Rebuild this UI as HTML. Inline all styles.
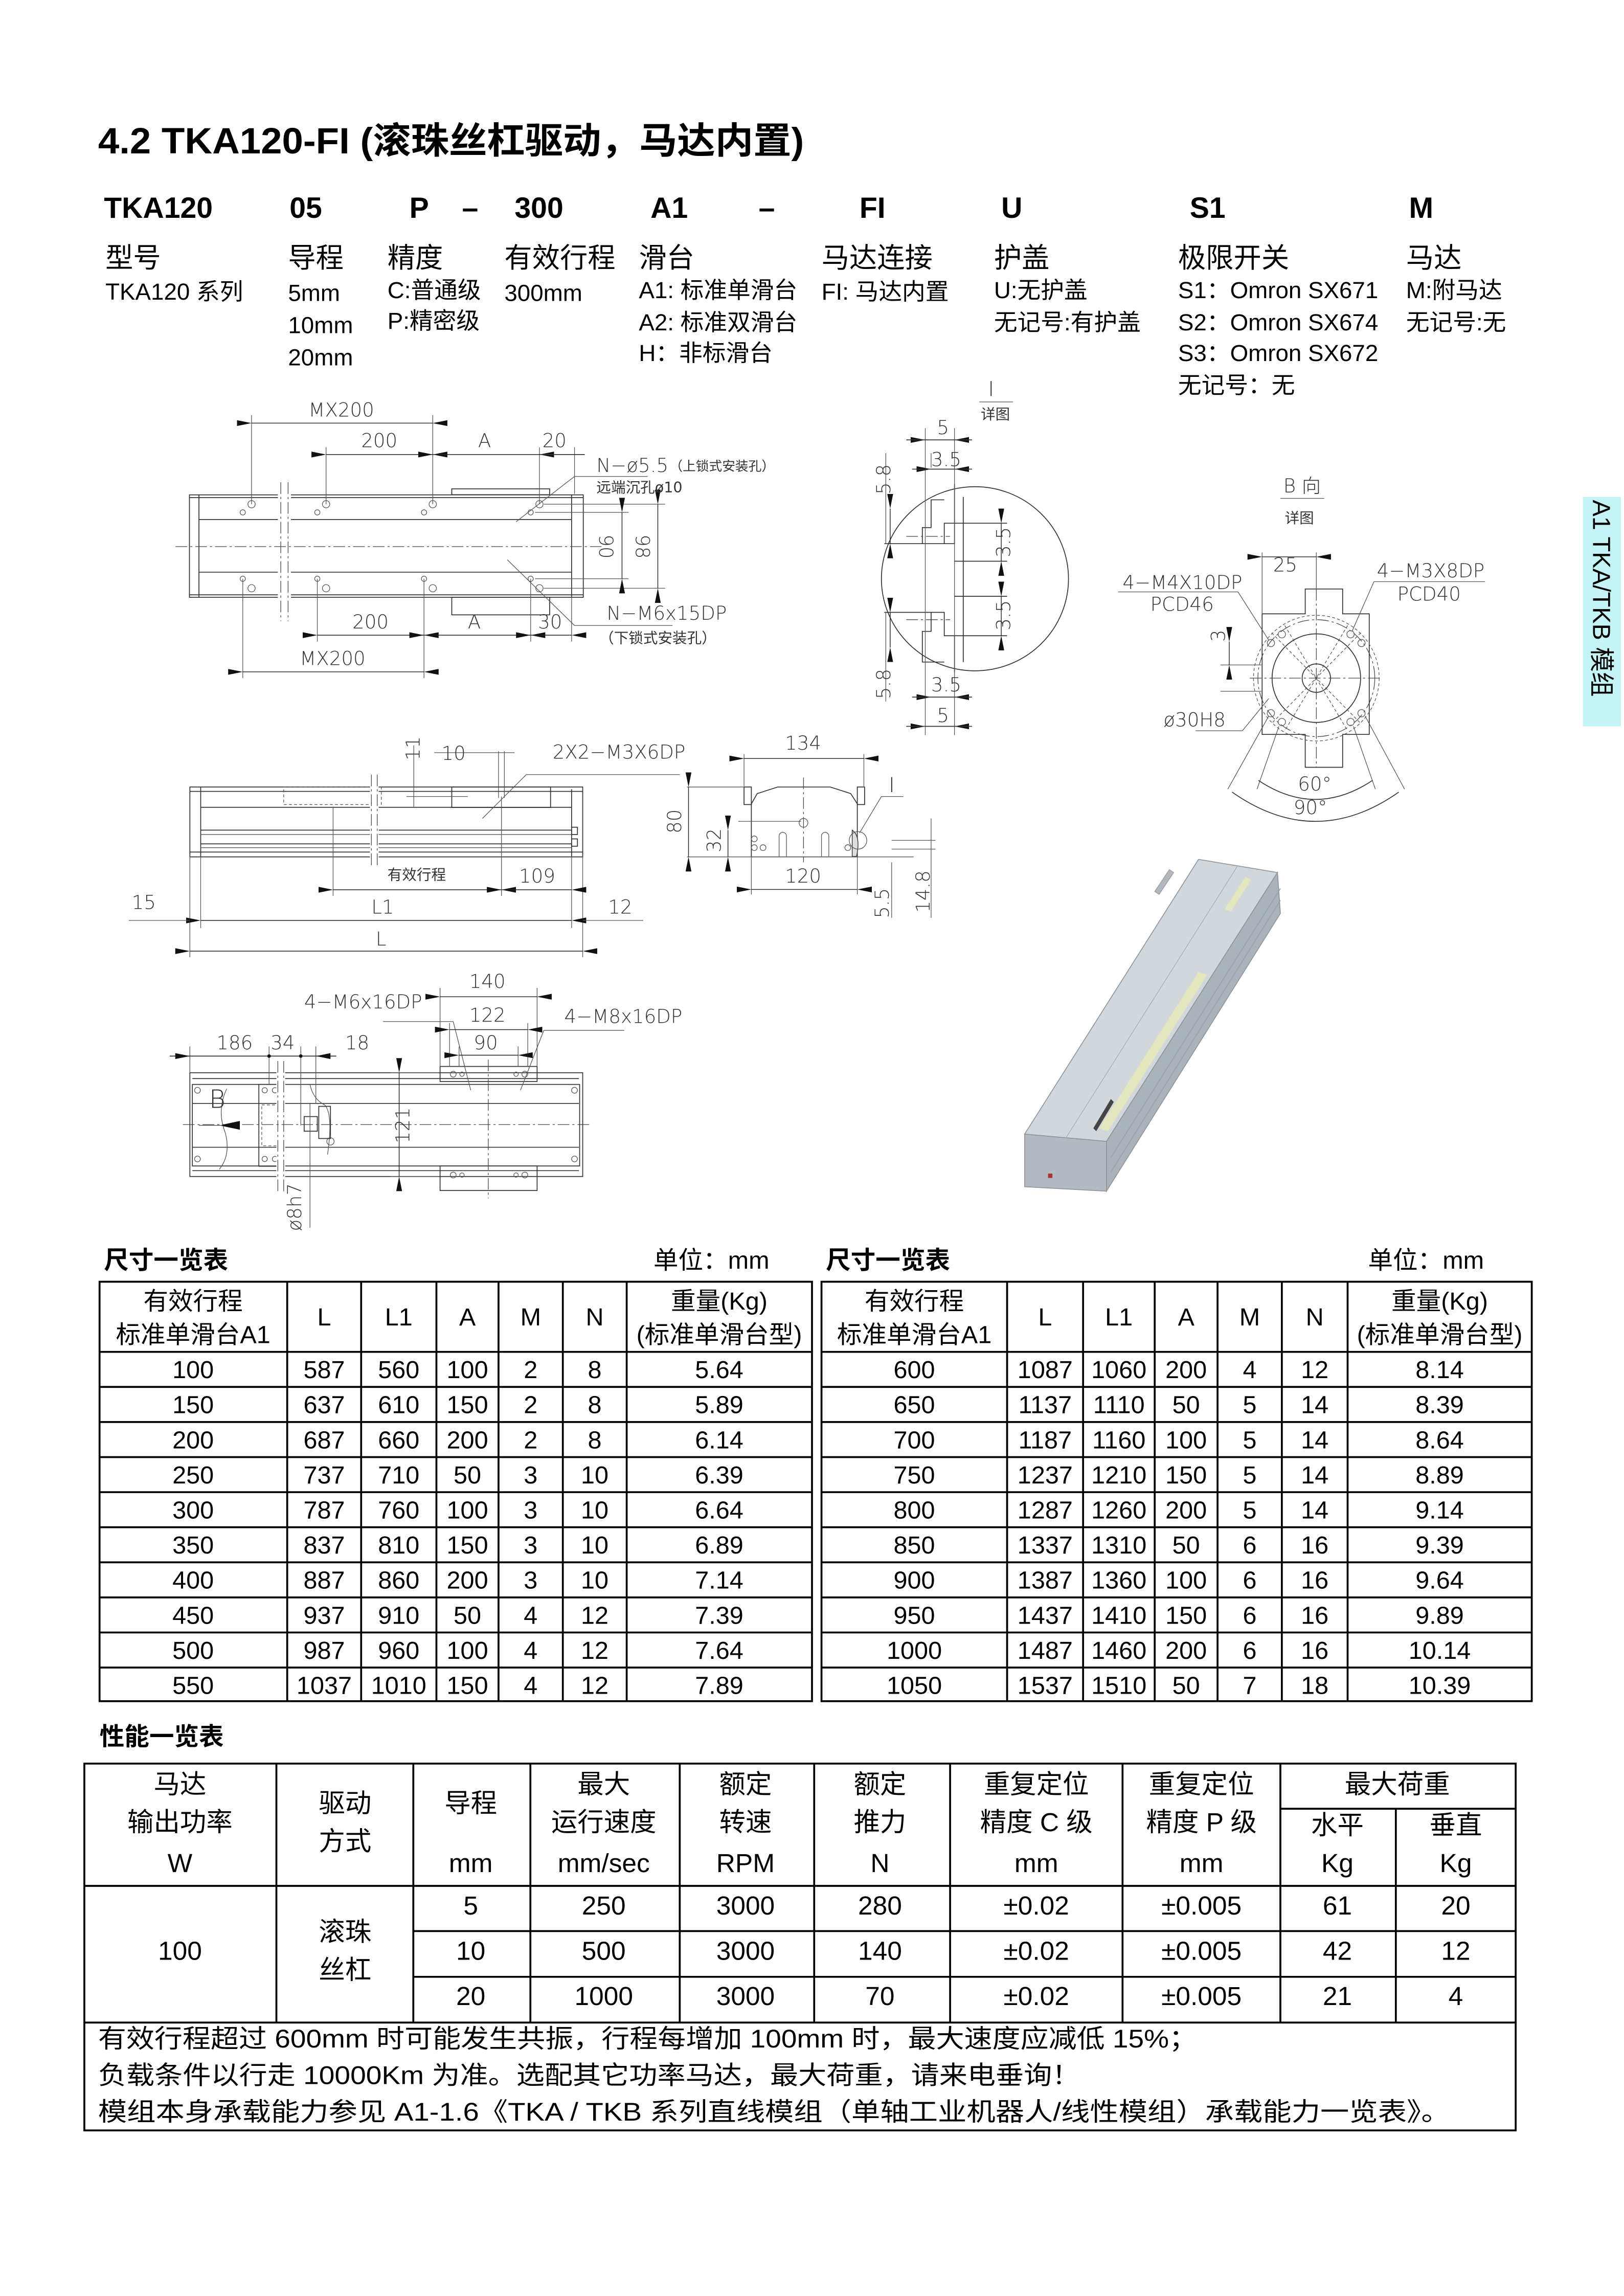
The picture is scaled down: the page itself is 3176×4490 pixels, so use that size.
<!DOCTYPE html>
<html><head><meta charset="utf-8"><style>
html,body{margin:0;padding:0;background:#fff;}
svg{display:block;}
.t{font-family:"Liberation Sans","Noto Sans CJK SC",sans-serif;fill:#000;}
.d{font-family:"DejaVu Sans","Noto Sans CJK SC",sans-serif;fill:#333;font-size:13px;font-weight:200;}
.ds{font-family:"DejaVu Sans","Noto Sans CJK SC",sans-serif;fill:#333;font-size:10px;}
.ln{stroke:#333;stroke-width:0.6;fill:none;}
.lt{stroke:#555;stroke-width:0.45;fill:none;}
.cl{stroke:#444;stroke-width:0.45;fill:none;stroke-dasharray:8 2 1.5 2;}
.dh{stroke:#555;stroke-width:0.45;fill:none;stroke-dasharray:2 1.5;}
.dm{stroke:#222;stroke-width:0.5;fill:none;marker-start:url(#a);marker-end:url(#a);}
.tb{stroke:#000;stroke-width:1.3;fill:none;}
</style></head><body>
<svg width="3176" height="4490" viewBox="0 0 1111 1571" xmlns="http://www.w3.org/2000/svg">
<defs>
<marker id="a" viewBox="0 0 10 4" refX="0" refY="2" markerWidth="10" markerHeight="4" orient="auto-start-reverse" markerUnits="userSpaceOnUse"><path d="M0,2 L10,0 L10,4 Z" fill="#111"/></marker>
</defs>
<rect width="1111" height="1571" fill="#fff"/>

<!-- Title -->
<text class="t" x="67" y="105" font-size="25" font-weight="bold" textLength="483" lengthAdjust="spacingAndGlyphs">4.2 TKA120-FI (滚珠丝杠驱动，马达内置)</text>
<g class="t" font-size="20" font-weight="bold">
<text x="71" y="149">TKA120</text><text x="198" y="149">05</text><text x="280" y="149">P</text><text x="316" y="149">–</text><text x="352" y="149">300</text><text x="445" y="149">A1</text><text x="519" y="149">–</text><text x="588" y="149">FI</text><text x="685" y="149">U</text><text x="814" y="149">S1</text><text x="964" y="149">M</text>
</g>
<g class="t" font-size="19">
<text x="72" y="183">型号</text><text x="197" y="183">导程</text><text x="265" y="183">精度</text><text x="345" y="183">有效行程</text><text x="437" y="183">滑台</text><text x="562" y="183">马达连接</text><text x="680" y="183">护盖</text><text x="806" y="183">极限开关</text><text x="962" y="183">马达</text>
</g>
<g class="t" font-size="16">
<text x="72" y="205">TKA120 系列</text><text x="197" y="206">5mm</text><text x="265" y="204">C:普通级</text><text x="345" y="206">300mm</text><text x="437" y="204">A1: 标准单滑台</text><text x="562" y="205">FI: 马达内置</text><text x="680" y="204">U:无护盖</text><text x="806" y="204">S1：Omron SX671</text><text x="962" y="204">M:附马达</text>
<text x="197" y="228">10mm</text><text x="265" y="225">P:精密级</text><text x="437" y="226">A2: 标准双滑台</text><text x="680" y="226">无记号:有护盖</text><text x="806" y="226">S2：Omron SX674</text><text x="962" y="226">无记号:无</text>
<text x="197" y="250">20mm</text><text x="437" y="247">H：非标滑台</text><text x="806" y="247">S3：Omron SX672</text>
<text x="806" y="269">无记号：无</text>
</g>

<!-- side tab -->
<rect x="1083" y="340" width="26" height="157" fill="#c4f4f6"/>
<text class="t" font-size="17" transform="translate(1090,342) rotate(90)">A1 TKA/TKB 模组</text>

<!-- TOP VIEW -->
<g>
<rect class="ln" x="129.5" y="338.6" width="269.5" height="70.1"/>
<line class="ln" x1="136" y1="338.6" x2="136" y2="408.7"/>
<line class="ln" x1="391" y1="338.6" x2="391" y2="408.7"/>
<line class="ln" x1="129.5" y1="340.5" x2="399" y2="340.5"/>
<line class="ln" x1="136" y1="355.5" x2="391" y2="355.5"/>
<line class="ln" x1="136" y1="391.5" x2="391" y2="391.5"/>
<line class="ln" x1="129.5" y1="407" x2="399" y2="407"/>
<rect class="ln" x="309" y="334.5" width="67" height="4"/>
<rect class="ln" x="309" y="408.7" width="67" height="12"/>
<rect x="190" y="330" width="9" height="95" fill="#fff"/>
<line class="cl" x1="192" y1="330" x2="192" y2="425"/><line class="cl" x1="197" y1="330" x2="197" y2="425"/>
<line class="cl" x1="120" y1="374" x2="412" y2="374"/>
<g class="lt">
<circle cx="172" cy="345" r="2.5"/><circle cx="223" cy="345" r="2.5"/><circle cx="296" cy="345" r="2.5"/><circle cx="369" cy="345" r="2.5"/>
<circle cx="166" cy="350.6" r="1.8"/><circle cx="217" cy="350.6" r="1.8"/><circle cx="290" cy="350.6" r="1.8"/><circle cx="363" cy="350.6" r="1.8"/>
<circle cx="166" cy="396" r="1.8"/><circle cx="217" cy="396" r="1.8"/><circle cx="290" cy="396" r="1.8"/><circle cx="363" cy="396" r="1.8"/>
<circle cx="172" cy="402.5" r="2.5"/><circle cx="223" cy="402.5" r="2.5"/><circle cx="296" cy="402.5" r="2.5"/><circle cx="369" cy="402.5" r="2.5"/>
</g>
<g class="lt">
<line x1="172" y1="284" x2="172" y2="345"/><line x1="223" y1="306" x2="223" y2="345"/><line x1="296" y1="284" x2="296" y2="345"/><line x1="369" y1="306" x2="369" y2="345"/><line x1="393" y1="306" x2="393" y2="338"/>
<line x1="217" y1="396" x2="217" y2="439"/><line x1="166" y1="396" x2="166" y2="464"/><line x1="290" y1="396" x2="290" y2="464"/><line x1="363" y1="396" x2="363" y2="439"/><line x1="391" y1="408" x2="391" y2="439"/>
<line x1="372" y1="345" x2="455" y2="345"/><line x1="366" y1="350.6" x2="430" y2="350.6"/><line x1="366" y1="396" x2="430" y2="396"/><line x1="372" y1="402.5" x2="455" y2="402.5"/>
</g>
<line class="dm" x1="172" y1="289.5" x2="296" y2="289.5"/>
<line class="dm" x1="223" y1="311" x2="296" y2="311"/>
<line class="dm" x1="296" y1="311" x2="369" y2="311"/>
<line class="ln" x1="369" y1="311" x2="400" y2="311"/>
<line class="dm" x1="217" y1="434.6" x2="290" y2="434.6"/>
<line class="dm" x1="290" y1="434.6" x2="363" y2="434.6"/>
<line class="dm" x1="363" y1="434.6" x2="391" y2="434.6"/>
<line class="dm" x1="166" y1="459.7" x2="290" y2="459.7"/>
<line class="dm" x1="425.5" y1="350.6" x2="425.5" y2="396"/>
<line class="dm" x1="450" y1="345" x2="450" y2="402.5"/>
<line class="lt" x1="353" y1="357" x2="393" y2="326"/><line class="lt" x1="393" y1="326" x2="443" y2="326"/>
<line class="lt" x1="347" y1="383" x2="393" y2="428"/><line class="lt" x1="393" y1="428" x2="460" y2="428"/>
<g class="d"><text x="211" y="285">MX200</text><text x="247" y="306">200</text><text x="327" y="306">A</text><text x="371" y="306">20</text>
<text x="241" y="430">200</text><text x="320" y="430">A</text><text x="368" y="430">30</text><text x="205" y="455">MX200</text>
<text x="408" y="323">N−ø5.5</text><text x="415" y="424">N−M6x15DP</text>
<text transform="translate(410,374) rotate(90)" text-anchor="middle">90</text>
<text transform="translate(435,374) rotate(90)" text-anchor="middle">98</text></g>
<g class="ds"><text x="458" y="322" font-size="9">（上锁式安装孔）</text><text x="408" y="337">远端沉孔ø10</text><text x="410" y="440">（下锁式安装孔）</text></g>
</g>

<!-- SIDE VIEW -->
<g>
<rect class="ln" x="129.8" y="538.5" width="268.8" height="47.8"/>
<line class="ln" x1="137.2" y1="538.5" x2="137.2" y2="586.3"/><line class="ln" x1="391" y1="540" x2="391" y2="586.3"/>
<line class="ln" x1="129.8" y1="541.5" x2="398.6" y2="541.5"/>
<line class="ln" x1="137.2" y1="552.4" x2="391" y2="552.4"/>
<line class="ln" x1="137.2" y1="568" x2="391" y2="568"/><line class="lt" x1="137.2" y1="571" x2="391" y2="571"/>
<line class="ln" x1="137.2" y1="577.4" x2="391" y2="577.4"/><line class="lt" x1="137.2" y1="580" x2="391" y2="580"/><line class="ln" x1="129.8" y1="583" x2="398.6" y2="583"/>
<rect class="dh" x="194" y="538.5" width="66.8" height="12"/>
<rect class="ln" x="309" y="538.5" width="67.6" height="14"/>
<rect class="ln" x="391" y="566" width="4" height="5"/><rect class="ln" x="391" y="574" width="4" height="5"/>
<rect x="253" y="530" width="6" height="62" fill="#fff"/>
<line class="cl" x1="254" y1="530" x2="254" y2="592"/><line class="cl" x1="258" y1="530" x2="258" y2="592"/>
<g class="lt"><line x1="129.8" y1="586" x2="129.8" y2="655"/><line x1="137.2" y1="586" x2="137.2" y2="635"/><line x1="227.8" y1="552" x2="227.8" y2="613"/><line x1="343" y1="545" x2="343" y2="613"/><line x1="391" y1="586" x2="391" y2="635"/><line x1="398.6" y1="586" x2="398.6" y2="655"/>
<line x1="341" y1="546" x2="341" y2="514"/><line x1="345" y1="546" x2="345" y2="514"/><line x1="283" y1="510" x2="283" y2="552"/><line x1="278" y1="545" x2="320" y2="545"/><line x1="330" y1="560" x2="360" y2="530"/><line x1="360" y1="530" x2="465" y2="530"/></g>
<line class="dm" x1="227.8" y1="608.8" x2="343" y2="608.8"/><line class="dm" x1="343" y1="608.8" x2="391" y2="608.8"/>
<line class="dm" x1="137.2" y1="629.8" x2="391" y2="629.8"/>
<line class="lt" x1="88" y1="629.8" x2="129.8" y2="629.8"/><line class="lt" x1="398.6" y1="629.8" x2="440" y2="629.8"/>
<line class="dm" x1="129.8" y1="650.8" x2="398.6" y2="650.8"/>
<line class="lt" x1="297" y1="515" x2="352" y2="515"/>
<g class="d"><text x="90" y="622">15</text><text x="254" y="625">L1</text><text x="257" y="647">L</text><text x="355" y="604">109</text><text x="416" y="625">12</text><text x="302" y="520">10</text><text x="378" y="519">2X2−M3X6DP</text>
<text transform="translate(287,512) rotate(-90)" text-anchor="middle">11</text></g>
<text class="ds" x="265" y="602">有效行程</text>
</g>

<!-- END VIEW -->
<g>
<polygon class="ln" points="514,550 514,586.3 586.5,586.3 586.5,550 582,543 568,538.5 532,538.5 518,543"/>
<rect class="ln" x="509" y="538.5" width="5" height="12"/><rect class="ln" x="586.5" y="538.5" width="5" height="12"/>
<line class="cl" x1="549.7" y1="532" x2="549.7" y2="590"/>
<line class="lt" x1="505" y1="562" x2="548" y2="562"/>
<g class="lt"><circle cx="516" cy="574" r="2"/><circle cx="516" cy="580" r="2"/><circle cx="522" cy="580" r="2"/><circle cx="580" cy="580" r="2"/>
<path d="M533,586 V572 a2.5,2.5 0 0 1 5,0 V586"/><path d="M562,586 V572 a2.5,2.5 0 0 1 5,0 V586"/><circle cx="549.7" cy="563" r="3"/></g>
<path d="M583,568 q6,4 3,18 l-3,0 Z" fill="#ddd" stroke="#333" stroke-width="0.5"/>
<circle class="lt" cx="587" cy="575" r="6"/>
<g class="lt"><line x1="509" y1="516" x2="509" y2="538"/><line x1="591" y1="516" x2="591" y2="538"/><line x1="470" y1="538.5" x2="509" y2="538.5"/><line x1="470" y1="586.3" x2="625" y2="586.3"/><line x1="514" y1="586" x2="514" y2="612"/><line x1="586.5" y1="586" x2="586.5" y2="612"/>
<line x1="610" y1="575" x2="640" y2="575"/><line x1="610" y1="581" x2="640" y2="581"/><line x1="588" y1="570" x2="603" y2="545"/><line x1="603" y1="545" x2="618" y2="545"/><line x1="610" y1="590" x2="610" y2="628"/><line x1="637" y1="560" x2="637" y2="628"/></g>
<line class="dm" x1="509" y1="519" x2="591" y2="519"/>
<line class="dm" x1="471" y1="538.5" x2="471" y2="586.3"/>
<line class="dm" x1="498" y1="568" x2="498" y2="586.3"/>
<line class="dm" x1="514" y1="608.6" x2="586.5" y2="608.6"/>
<g class="d"><text x="537" y="513">134</text><text x="537" y="604">120</text><text x="608" y="542" font-size="14">I</text>
<text transform="translate(466,562) rotate(-90)" text-anchor="middle">80</text><text transform="translate(493,575) rotate(-90)" text-anchor="middle">32</text>
<text transform="translate(608,618) rotate(-90)" text-anchor="middle">5.5</text><text transform="translate(636,610) rotate(-90)" text-anchor="middle">14.8</text></g>
</g>

<!-- DETAIL I circle -->
<g>
<ellipse class="ln" cx="667" cy="396" rx="64" ry="63"/>
<g class="ln">
<polyline points="631,372 646,372 646,358 653,358 653,331"/>
<polyline points="605,372 631,372"/>
<polyline points="631,372 631,361 637,361 637,342 646,342"/>
<polyline points="653,358 653,372 646,372"/>
<polyline points="605,419 646,419 646,435 653,435 653,460"/>
<polyline points="637,419 637,432 631,432 631,453 646,453"/>
<line x1="659" y1="340" x2="659" y2="453"/>
<line x1="653" y1="358" x2="689" y2="358"/><line x1="653" y1="384" x2="689" y2="384"/><line x1="653" y1="408" x2="689" y2="408"/><line x1="653" y1="435" x2="689" y2="435"/>
</g>
<line class="cl" x1="620" y1="367" x2="650" y2="367"/><line class="cl" x1="620" y1="424" x2="650" y2="424"/>
<g class="lt"><line x1="633" y1="293" x2="633" y2="503"/><line x1="653" y1="293" x2="653" y2="503"/><line x1="637" y1="310" x2="637" y2="320"/><line x1="606" y1="372" x2="606" y2="310"/><line x1="606" y1="419" x2="606" y2="480"/></g>
<line class="dm" x1="633" y1="301" x2="653" y2="301"/><line class="ln" x1="620" y1="301" x2="665" y2="301"/>
<line class="dm" x1="637" y1="321" x2="653" y2="321"/><line class="ln" x1="624" y1="321" x2="665" y2="321"/>
<line class="dm" x1="637" y1="477" x2="653" y2="477"/><line class="ln" x1="624" y1="477" x2="665" y2="477"/>
<line class="dm" x1="633" y1="497" x2="653" y2="497"/><line class="ln" x1="620" y1="497" x2="665" y2="497"/>
<line class="dm" x1="609" y1="348" x2="609" y2="372"/><line class="dm" x1="609" y1="419" x2="609" y2="443"/>
<line class="dm" x1="685" y1="358" x2="685" y2="384"/><line class="dm" x1="685" y1="408" x2="685" y2="435"/>
<g class="d"><text x="641" y="297">5</text><text x="637" y="319">3.5</text><text x="637" y="473">3.5</text><text x="641" y="494">5</text>
<text transform="translate(609,328) rotate(-90)" text-anchor="middle">5.8</text><text transform="translate(609,468) rotate(-90)" text-anchor="middle">5.8</text>
<text transform="translate(691,371) rotate(-90)" text-anchor="middle">3.5</text><text transform="translate(691,421) rotate(-90)" text-anchor="middle">3.5</text>
<text x="676" y="271" font-size="14">I</text></g>
<line class="lt" x1="670" y1="275" x2="693" y2="275"/><text class="ds" x="671" y="287">详图</text>
</g>

<!-- B VIEW -->
<g>
<text class="d" x="878" y="337" font-size="15">B 向</text><line class="lt" x1="876" y1="341" x2="906" y2="341"/><text class="ds" x="879" y="358" font-size="13">详图</text>
<polygon class="ln" points="863.5,420 893,420 893,403 918.6,403 918.6,420 936.8,420 936.8,502.5 918.6,502.5 918.6,525 893,525 893,502.5 863.5,502.5"/>
<circle class="dh" cx="900.6" cy="464" r="43"/><circle class="cl" cx="900.6" cy="464" r="40"/>
<circle class="ln" cx="900.6" cy="464" r="30.3"/><circle class="ln" cx="900.6" cy="464" r="9.7"/>
<g class="dh"><line x1="870" y1="433" x2="931" y2="495"/><line x1="931" y1="433" x2="870" y2="495"/><line x1="879" y1="428" x2="922" y2="500"/><line x1="922" y1="428" x2="879" y2="500"/></g>
<line class="cl" x1="855" y1="464" x2="945" y2="464"/><line class="cl" x1="900.6" y1="403" x2="900.6" y2="525"/>
<g class="lt"><circle cx="869.5" cy="440" r="2.5"/><circle cx="931.5" cy="440" r="2.5"/><circle cx="869.5" cy="488" r="2.5"/><circle cx="931.5" cy="488" r="2.5"/>
<circle cx="877" cy="434" r="2.5"/><circle cx="924" cy="434" r="2.5"/><circle cx="877" cy="494" r="2.5"/><circle cx="924" cy="494" r="2.5"/></g>
<g class="lt"><line x1="863.5" y1="378" x2="863.5" y2="420"/><line x1="900.6" y1="378" x2="900.6" y2="403"/>
<line x1="765" y1="405" x2="847" y2="405"/><line x1="847" y1="405" x2="868" y2="438"/>
<line x1="940" y1="398" x2="1016" y2="398"/><line x1="940" y1="398" x2="925" y2="432"/>
<line x1="818" y1="500" x2="850" y2="500"/><line x1="850" y1="500" x2="868" y2="478"/>
<line x1="835" y1="455" x2="863" y2="455"/><line x1="835" y1="473" x2="863" y2="473"/>
<line x1="868" y1="490" x2="840" y2="540"/><line x1="934" y1="490" x2="961" y2="540"/><line x1="875" y1="497" x2="860" y2="540"/><line x1="926" y1="497" x2="941" y2="540"/></g>
<line class="dm" x1="863.5" y1="381" x2="900.6" y2="381"/>
<line class="dm" x1="841" y1="439" x2="841" y2="455"/>
<path class="ln" d="M861,534 Q900,560 939,534"/><path class="ln" d="M843,542 Q900,582 957,542"/>
<g class="d"><text x="768" y="403">4−M4X10DP</text><text x="787" y="418">PCD46</text><text x="871" y="391">25</text><text x="942" y="395">4−M3X8DP</text><text x="956" y="411">PCD40</text>
<text x="796" y="497">ø30H8</text><text x="888" y="541">60°</text><text x="885" y="557">90°</text>
<text transform="translate(838,435) rotate(-90)" text-anchor="middle">3</text></g>
</g>

<!-- BOTTOM VIEW -->
<g>
<rect class="ln" x="129.8" y="734" width="268.8" height="71"/>
<rect class="ln" x="131.5" y="742" width="265" height="55.8"/>
<line class="ln" x1="131.5" y1="738" x2="396" y2="738"/><line class="ln" x1="131.5" y1="801" x2="396" y2="801"/>
<line class="ln" x1="131.5" y1="755" x2="396" y2="755"/><line class="ln" x1="131.5" y1="785" x2="396" y2="785"/>
<rect class="ln" x="301" y="729.7" width="66.4" height="10.3"/><rect class="ln" x="301" y="797.8" width="66.4" height="16.8"/>
<g class="lt"><circle cx="310" cy="735" r="2"/><circle cx="316" cy="735" r="1.5"/><circle cx="353" cy="735" r="1.5"/><circle cx="359" cy="735" r="2"/>
<circle cx="310" cy="804" r="2"/><circle cx="316" cy="804" r="1.5"/><circle cx="353" cy="804" r="1.5"/><circle cx="359" cy="804" r="2"/>
<circle cx="135" cy="746" r="2"/><circle cx="135" cy="793" r="2"/><circle cx="393" cy="746" r="2"/><circle cx="393" cy="793" r="2"/>
<circle cx="181" cy="746" r="1.8"/><circle cx="188" cy="746" r="1.8"/><circle cx="181" cy="793" r="1.8"/><circle cx="188" cy="793" r="1.8"/><circle cx="226" cy="781" r="2.5"/></g>
<rect class="ln" x="177" y="742" width="14" height="56"/><rect class="dh" x="179" y="756" width="12" height="28"/>
<path class="lt" d="M155,745 Q148,760 154,775 Q158,790 150,800"/><path class="lt" d="M212,742 Q214,752 222,756 Q228,762 224,790"/>
<rect class="ln" x="218" y="757" width="8" height="22"/><rect class="ln" x="208" y="764" width="9" height="10"/>
<rect x="189" y="728" width="6" height="85" fill="#fff"/>
<line class="cl" x1="190" y1="726" x2="190" y2="815"/><line class="cl" x1="194" y1="726" x2="194" y2="815"/>
<line class="cl" x1="125" y1="769.5" x2="405" y2="769.5"/><line class="cl" x1="334" y1="725" x2="334" y2="820"/>
<path d="M150,770 l14,-3 v6 Z" fill="#111"/><line class="lt" x1="136" y1="770" x2="152" y2="770"/>
<g class="lt"><line x1="129.8" y1="716" x2="129.8" y2="734"/><line x1="184" y1="716" x2="184" y2="742"/><line x1="205.7" y1="716" x2="205.7" y2="770"/><line x1="216" y1="716" x2="216" y2="755"/>
<line x1="301" y1="676" x2="301" y2="730"/><line x1="367.4" y1="676" x2="367.4" y2="730"/><line x1="307.5" y1="700" x2="307.5" y2="730"/><line x1="361" y1="700" x2="361" y2="730"/><line x1="314" y1="716" x2="314" y2="730"/><line x1="354.4" y1="716" x2="354.4" y2="730"/>
<line x1="212" y1="755" x2="212" y2="840"/>
<line x1="262" y1="699" x2="310" y2="699"/><line x1="310" y1="699" x2="322" y2="746"/><line x1="372" y1="705" x2="427" y2="705"/><line x1="372" y1="705" x2="356" y2="746"/>
<line x1="267" y1="734" x2="300" y2="734"/><line x1="267" y1="805" x2="300" y2="805"/></g>
<line class="dm" x1="301" y1="682" x2="367.4" y2="682"/>
<line class="dm" x1="307.5" y1="704.5" x2="361" y2="704.5"/>
<line class="dm" x1="314" y1="722" x2="354.4" y2="722"/>
<line class="ln" x1="116" y1="722.6" x2="230" y2="722.6"/>
<path d="M129.8,722.6 l-10,-2 v4 Z M216,722.6 l10,-2 v4 Z" fill="#111"/>
<circle cx="184" cy="722.6" r="1.2" fill="#111"/><circle cx="205.7" cy="722.6" r="1.2" fill="#111"/>
<line class="dm" x1="273" y1="734" x2="273" y2="805"/>
<g class="d"><text x="148" y="718">186</text><text x="185" y="718">34</text><text x="236" y="718">18</text><text x="208" y="690">4−M6x16DP</text><text x="321" y="676">140</text><text x="321" y="699">122</text><text x="324" y="718">90</text><text x="386" y="700">4−M8x16DP</text>
<text x="143" y="758" font-size="17">B</text>
<text transform="translate(280,770) rotate(-90)" text-anchor="middle">121</text><text transform="translate(206,826) rotate(-90)" text-anchor="middle">ø8h7</text></g>
</g>

<!-- 3D product -->
<g>
<polygon points="701,776 820,588 874,597 757,781" fill="#d2d7dc" stroke="#8e969e" stroke-width="0.6"/>
<polygon points="757,781 874,597 876,625 757,815" fill="#aab2ba" stroke="#8e969e" stroke-width="0.6"/>
<polygon points="701,776 757,781 757,815 701,812" fill="#b3bac1" stroke="#8e969e" stroke-width="0.6"/>
<line x1="729" y1="779" x2="847" y2="592" stroke="#aab1b8" stroke-width="0.5"/>
<polygon points="752,772 820,665 826,667 758,774" fill="#e4e6c0"/>
<polygon points="838,622 852,600 856,602 842,624" fill="#e4e6c0"/>
<line x1="760" y1="792" x2="876" y2="608" stroke="#9aa2aa" stroke-width="0.6"/>
<line x1="760" y1="802" x2="876" y2="616" stroke="#9aa2aa" stroke-width="0.6"/>
<polygon points="790,610 800,595 803,597 793,612" fill="#b0b7be" stroke="#8e969e" stroke-width="0.4"/>
<rect x="717" y="803" width="3" height="3" fill="#a33"/>
<polygon points="748,772 760,752 762,754 750,774" fill="#444"/>
</g>

<!-- dimension tables -->
<g class="t" font-size="17">
<text x="71" y="868" font-weight="bold">尺寸一览表</text><text x="447" y="868">单位：mm</text>
<text x="565" y="868" font-weight="bold">尺寸一览表</text><text x="936" y="868">单位：mm</text>
</g>
<g class="tb">
<rect x="68" y="877" width="487.5" height="287"/>
<line x1="68" y1="925" x2="555.5" y2="925"/>
<line x1="196.4" y1="877" x2="196.4" y2="1164"/><line x1="247" y1="877" x2="247" y2="1164"/><line x1="298.5" y1="877" x2="298.5" y2="1164"/><line x1="341" y1="877" x2="341" y2="1164"/><line x1="385" y1="877" x2="385" y2="1164"/><line x1="428.7" y1="877" x2="428.7" y2="1164"/>
<line x1="68" y1="949" x2="555.5" y2="949"/><line x1="68" y1="973" x2="555.5" y2="973"/><line x1="68" y1="997" x2="555.5" y2="997"/><line x1="68" y1="1021" x2="555.5" y2="1021"/><line x1="68" y1="1045" x2="555.5" y2="1045"/><line x1="68" y1="1069" x2="555.5" y2="1069"/><line x1="68" y1="1093" x2="555.5" y2="1093"/><line x1="68" y1="1117" x2="555.5" y2="1117"/><line x1="68" y1="1141" x2="555.5" y2="1141"/>
<rect x="562" y="877" width="486" height="287"/>
<line x1="562" y1="925" x2="1048" y2="925"/>
<line x1="689" y1="877" x2="689" y2="1164"/><line x1="741" y1="877" x2="741" y2="1164"/><line x1="790" y1="877" x2="790" y2="1164"/><line x1="833" y1="877" x2="833" y2="1164"/><line x1="877" y1="877" x2="877" y2="1164"/><line x1="922" y1="877" x2="922" y2="1164"/>
<line x1="562" y1="949" x2="1048" y2="949"/><line x1="562" y1="973" x2="1048" y2="973"/><line x1="562" y1="997" x2="1048" y2="997"/><line x1="562" y1="1021" x2="1048" y2="1021"/><line x1="562" y1="1045" x2="1048" y2="1045"/><line x1="562" y1="1069" x2="1048" y2="1069"/><line x1="562" y1="1093" x2="1048" y2="1093"/><line x1="562" y1="1117" x2="1048" y2="1117"/><line x1="562" y1="1141" x2="1048" y2="1141"/>
</g>
<g class="t" font-size="17" text-anchor="middle">
<text x="132" y="896">有效行程</text><text x="132" y="919">标准单滑台A1</text><text x="221.7" y="907">L</text><text x="272.7" y="907">L1</text><text x="319.7" y="907">A</text><text x="363" y="907">M</text><text x="406.8" y="907">N</text><text x="492" y="896">重量(Kg)</text><text x="492" y="919">(标准单滑台型)</text>
<text x="625.5" y="896">有效行程</text><text x="625.5" y="919">标准单滑台A1</text><text x="715" y="907">L</text><text x="765.5" y="907">L1</text><text x="811.5" y="907">A</text><text x="855" y="907">M</text><text x="899.5" y="907">N</text><text x="985" y="896">重量(Kg)</text><text x="985" y="919">(标准单滑台型)</text>
</g>
<g class="t" font-size="17" text-anchor="middle">
<g transform="translate(0,943)"><text x="132">100</text><text x="221.7">587</text><text x="272.7">560</text><text x="319.7">100</text><text x="363">2</text><text x="406.8">8</text><text x="492">5.64</text><text x="625.5">600</text><text x="715">1087</text><text x="765.5">1060</text><text x="811.5">200</text><text x="855">4</text><text x="899.5">12</text><text x="985">8.14</text></g>
<g transform="translate(0,967)"><text x="132">150</text><text x="221.7">637</text><text x="272.7">610</text><text x="319.7">150</text><text x="363">2</text><text x="406.8">8</text><text x="492">5.89</text><text x="625.5">650</text><text x="715">1137</text><text x="765.5">1110</text><text x="811.5">50</text><text x="855">5</text><text x="899.5">14</text><text x="985">8.39</text></g>
<g transform="translate(0,991)"><text x="132">200</text><text x="221.7">687</text><text x="272.7">660</text><text x="319.7">200</text><text x="363">2</text><text x="406.8">8</text><text x="492">6.14</text><text x="625.5">700</text><text x="715">1187</text><text x="765.5">1160</text><text x="811.5">100</text><text x="855">5</text><text x="899.5">14</text><text x="985">8.64</text></g>
<g transform="translate(0,1015)"><text x="132">250</text><text x="221.7">737</text><text x="272.7">710</text><text x="319.7">50</text><text x="363">3</text><text x="406.8">10</text><text x="492">6.39</text><text x="625.5">750</text><text x="715">1237</text><text x="765.5">1210</text><text x="811.5">150</text><text x="855">5</text><text x="899.5">14</text><text x="985">8.89</text></g>
<g transform="translate(0,1039)"><text x="132">300</text><text x="221.7">787</text><text x="272.7">760</text><text x="319.7">100</text><text x="363">3</text><text x="406.8">10</text><text x="492">6.64</text><text x="625.5">800</text><text x="715">1287</text><text x="765.5">1260</text><text x="811.5">200</text><text x="855">5</text><text x="899.5">14</text><text x="985">9.14</text></g>
<g transform="translate(0,1063)"><text x="132">350</text><text x="221.7">837</text><text x="272.7">810</text><text x="319.7">150</text><text x="363">3</text><text x="406.8">10</text><text x="492">6.89</text><text x="625.5">850</text><text x="715">1337</text><text x="765.5">1310</text><text x="811.5">50</text><text x="855">6</text><text x="899.5">16</text><text x="985">9.39</text></g>
<g transform="translate(0,1087)"><text x="132">400</text><text x="221.7">887</text><text x="272.7">860</text><text x="319.7">200</text><text x="363">3</text><text x="406.8">10</text><text x="492">7.14</text><text x="625.5">900</text><text x="715">1387</text><text x="765.5">1360</text><text x="811.5">100</text><text x="855">6</text><text x="899.5">16</text><text x="985">9.64</text></g>
<g transform="translate(0,1111)"><text x="132">450</text><text x="221.7">937</text><text x="272.7">910</text><text x="319.7">50</text><text x="363">4</text><text x="406.8">12</text><text x="492">7.39</text><text x="625.5">950</text><text x="715">1437</text><text x="765.5">1410</text><text x="811.5">150</text><text x="855">6</text><text x="899.5">16</text><text x="985">9.89</text></g>
<g transform="translate(0,1135)"><text x="132">500</text><text x="221.7">987</text><text x="272.7">960</text><text x="319.7">100</text><text x="363">4</text><text x="406.8">12</text><text x="492">7.64</text><text x="625.5">1000</text><text x="715">1487</text><text x="765.5">1460</text><text x="811.5">200</text><text x="855">6</text><text x="899.5">16</text><text x="985">10.14</text></g>
<g transform="translate(0,1159)"><text x="132">550</text><text x="221.7">1037</text><text x="272.7">1010</text><text x="319.7">150</text><text x="363">4</text><text x="406.8">12</text><text x="492">7.89</text><text x="625.5">1050</text><text x="715">1537</text><text x="765.5">1510</text><text x="811.5">50</text><text x="855">7</text><text x="899.5">18</text><text x="985">10.39</text></g>
</g>

<!-- performance table -->
<text class="t" x="68" y="1194" font-size="17" font-weight="bold">性能一览表</text>
<g class="tb">
<rect x="57.6" y="1206.7" width="979.4" height="251"/>
<line x1="876" y1="1237.6" x2="1037" y2="1237.6"/>
<line x1="57.6" y1="1290.4" x2="1037" y2="1290.4"/>
<line x1="282.7" y1="1321.3" x2="1037" y2="1321.3"/><line x1="282.7" y1="1352.6" x2="1037" y2="1352.6"/>
<line x1="57.6" y1="1383.9" x2="1037" y2="1383.9"/>
<line x1="189" y1="1206.7" x2="189" y2="1383.9"/><line x1="282.7" y1="1206.7" x2="282.7" y2="1383.9"/><line x1="362.8" y1="1206.7" x2="362.8" y2="1383.9"/><line x1="465" y1="1206.7" x2="465" y2="1383.9"/><line x1="557" y1="1206.7" x2="557" y2="1383.9"/><line x1="650" y1="1206.7" x2="650" y2="1383.9"/><line x1="768" y1="1206.7" x2="768" y2="1383.9"/><line x1="876" y1="1206.7" x2="876" y2="1383.9"/><line x1="955" y1="1237.6" x2="955" y2="1383.9"/>
</g>
<g class="t" font-size="18" text-anchor="middle">
<text x="123" y="1227">马达</text><text x="123" y="1253">输出功率</text><text x="123" y="1281">W</text>
<text x="236" y="1240">驱动</text><text x="236" y="1266">方式</text>
<text x="322" y="1240">导程</text><text x="322" y="1281">mm</text>
<text x="413" y="1227">最大</text><text x="413" y="1253">运行速度</text><text x="413" y="1281">mm/sec</text>
<text x="510" y="1227">额定</text><text x="510" y="1253">转速</text><text x="510" y="1281">RPM</text>
<text x="602" y="1227">额定</text><text x="602" y="1253">推力</text><text x="602" y="1281">N</text>
<text x="709" y="1227">重复定位</text><text x="709" y="1253">精度 C 级</text><text x="709" y="1281">mm</text>
<text x="822" y="1227">重复定位</text><text x="822" y="1253">精度 P 级</text><text x="822" y="1281">mm</text>
<text x="956" y="1227">最大荷重</text><text x="915" y="1255">水平</text><text x="996" y="1255">垂直</text><text x="915" y="1281">Kg</text><text x="996" y="1281">Kg</text>
<text x="123" y="1341">100</text><text x="236" y="1328">滚珠</text><text x="236" y="1354">丝杠</text>
<g transform="translate(0,1310)"><text x="322">5</text><text x="413">250</text><text x="510">3000</text><text x="602">280</text><text x="709">±0.02</text><text x="822">±0.005</text><text x="915">61</text><text x="996">20</text></g>
<g transform="translate(0,1341)"><text x="322">10</text><text x="413">500</text><text x="510">3000</text><text x="602">140</text><text x="709">±0.02</text><text x="822">±0.005</text><text x="915">42</text><text x="996">12</text></g>
<g transform="translate(0,1372)"><text x="322">20</text><text x="413">1000</text><text x="510">3000</text><text x="602">70</text><text x="709">±0.02</text><text x="822">±0.005</text><text x="915">21</text><text x="996">4</text></g>
</g>
<g class="t" font-size="17.5">
<text x="67" y="1401" textLength="752" lengthAdjust="spacingAndGlyphs">有效行程超过 600mm 时可能发生共振，行程每增加 100mm 时，最大速度应减低 15%；</text>
<text x="67" y="1426" textLength="672" lengthAdjust="spacingAndGlyphs">负载条件以行走 10000Km 为准。选配其它功率马达，最大荷重，请来电垂询！</text>
<text x="67" y="1451" textLength="925" lengthAdjust="spacingAndGlyphs">模组本身承载能力参见 A1-1.6《TKA / TKB 系列直线模组（单轴工业机器人/线性模组）承载能力一览表》。</text>
</g>
</svg>
</body></html>
